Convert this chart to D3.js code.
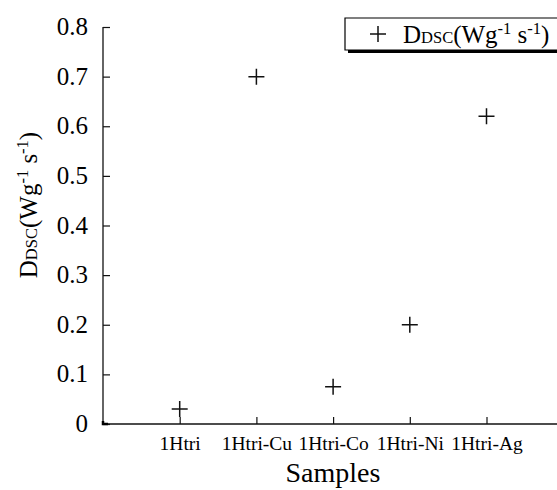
<!DOCTYPE html>
<html>
<head>
<meta charset="utf-8">
<script src="https://cdn.jsdelivr.net/npm/d3@7"></script>
<style>
  html, body { margin: 0; background: #fff; overflow: hidden; }
  svg { display: block; font-family: "Liberation Serif", "Times New Roman", serif; }
</style>
</head>
<body>
<svg id="chart" width="557" height="490"></svg>
<script>
/*
 * Data
 */
var SAMPLES = ['1Htri', '1Htri-Cu', '1Htri-Co', '1Htri-Ni', '1Htri-Ag'],
    DDSC = [0.03, 0.70, 0.075, 0.20, 0.62],
    Y_TICKS = [0, 0.1, 0.2, 0.3, 0.4, 0.5, 0.6, 0.7, 0.8];

/*
 * Layout
 */
var LEFT = 103, TOP = 27, BOTTOM = 424, STEP = 76.7,
    MARK = 8, INK = '#111',
    SERIF = 'Liberation Serif, Times New Roman, serif';

var svg = d3.select('#chart');

var x = d3.scaleLinear()
    .domain([0, SAMPLES.length + 1])
    .range([LEFT, LEFT + STEP * (SAMPLES.length + 1)]);

var y = d3.scaleLinear()
    .domain([0, 0.8])
    .range([BOTTOM, TOP]);

// y axis, ticks pointing inward
var yAxis = svg.append('g')
    .attr('transform', 'translate(' + LEFT + ',0)')
    .call(d3.axisLeft(y).tickValues(Y_TICKS).tickSize(-7).tickPadding(15)
        .tickFormat(function (d) { return d === 0 ? '0' : d3.format('.1f')(d); }));
yAxis.attr('font-family', SERIF);
yAxis.select('.domain').attr('d', 'M0,' + TOP + 'V' + BOTTOM).attr('stroke', INK).attr('stroke-width', 1.3);
yAxis.selectAll('.tick line').attr('stroke', INK).attr('stroke-width', 1.2);
yAxis.selectAll('.tick text')
    .attr('font-family', SERIF).attr('font-size', 25).attr('fill', '#000').attr('dy', '0.3em');

// x axis
var xAxis = svg.append('g')
    .attr('transform', 'translate(0,' + BOTTOM + ')')
    .call(d3.axisBottom(x).tickValues(d3.range(1, SAMPLES.length + 1)).tickSize(-7).tickPadding(12)
        .tickFormat(function (d) { return SAMPLES[d - 1]; }));
xAxis.attr('font-family', SERIF);
xAxis.select('.domain').attr('d', 'M' + LEFT + ',0H560').attr('stroke', INK).attr('stroke-width', 1.3);
xAxis.selectAll('.tick line').attr('stroke', INK).attr('stroke-width', 1.2);
xAxis.selectAll('.tick text')
    .attr('font-family', SERIF).attr('font-size', 19.5).attr('fill', '#000');

// corner
svg.append('path').attr('d', 'M' + LEFT + ',' + (BOTTOM - 3) + 'V' + BOTTOM + 'H' + (LEFT + 5))
    .attr('fill', 'none').attr('stroke', '#000').attr('stroke-width', 2.5);

// axis titles
svg.append('text')
    .attr('x', 333).attr('y', 482)
    .attr('text-anchor', 'middle').attr('font-size', 28)
    .text('Samples');

function unitLabel(t) {
    t.append('tspan').text('D');
    t.append('tspan').attr('font-size', 16.5).text('DSC');
    t.append('tspan').text('(Wg');
    t.append('tspan').attr('font-size', 16.5).attr('dy', -9).text('-1');
    t.append('tspan').attr('dy', 9).text(' s');
    t.append('tspan').attr('font-size', 16.5).attr('dy', -9).text('-1');
    t.append('tspan').attr('dy', 9).text(')');
}

svg.append('text')
    .attr('transform', 'translate(37,205) rotate(-90)')
    .attr('text-anchor', 'middle').attr('font-size', 25)
    .call(unitLabel);

// markers
function plus(sel) {
    sel.append('path')
        .attr('d', 'M' + (-MARK) + ',0H' + MARK + 'M0,' + (-MARK) + 'V' + MARK)
        .attr('stroke', INK).attr('stroke-width', 1.5).attr('fill', 'none');
}

svg.selectAll('g.pt')
    .data(DDSC)
    .enter()
    .append('g')
    .attr('class', 'pt')
    .attr('transform', function (d, i) { return 'translate(' + x(i + 1) + ',' + y(d) + ')'; })
    .call(plus);

// legend (box runs off the right edge)
var lg = svg.append('g');
lg.append('rect').attr('x', 348).attr('y', 21).attr('width', 260).attr('height', 32).attr('fill', '#000');
lg.append('rect').attr('x', 345).attr('y', 18).attr('width', 260).attr('height', 32).attr('fill', '#fff');
lg.append('path').attr('d', 'M600,18H345V50H600')
    .attr('fill', 'none').attr('stroke', '#000').attr('stroke-width', 1.2);
lg.append('g').attr('transform', 'translate(378,34)').call(plus);
lg.append('text').attr('x', 403).attr('y', 43).attr('font-size', 25).call(unitLabel);
</script>
</body>
</html>
